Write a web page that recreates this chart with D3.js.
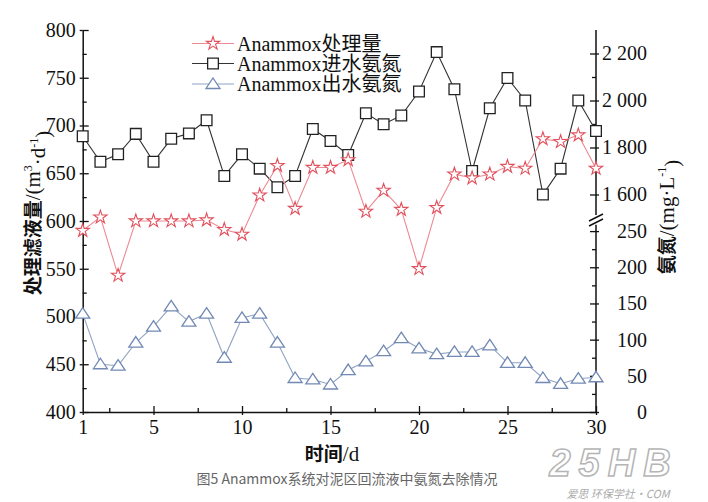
<!DOCTYPE html>
<html><head><meta charset="utf-8">
<script src="https://cdn.jsdelivr.net/npm/d3@7/dist/d3.min.js"></script>
<style>
html,body{margin:0;padding:0;background:#fff;}
svg{display:block;}
.tick text{font-family:"Liberation Serif","Times New Roman",serif;font-size:20px;fill:#111;}
</style></head>
<body><svg id="c" width="708" height="502"></svg>
<script>
const days = d3.range(1, 31);
const treatment = [590,604,543,600,600,600,600,601,591,586,627,658,613,656,656,664,610,632,612,550,614,649,645,649,657,655,686,683,690,655];
const influentNH = [1848,1739,1771,1858,1739,1837,1860,1916,1679,1771,1710,1631,1679,1879,1828,1768,1946,1899,1936,2038,2206,2048,1700,1967,2096,2000,1600,1710,2000,1870];
const effluentNH = [136,66,64,96,118,146,125,136,75,130,136,96,47,45,38,58,70,84,102,88,80,83,83,92,68,68,47,39,46,48];
const seriesNames = ["Anammox处理量","Anammox进水氨氮","Anammox出水氨氮"];
const xTicks = [1,5,10,15,20,25,30];
const leftTicks = [400,450,500,550,600,650,700,750,800];
const rightUpperTicks = [1600,1800,2000,2200];
const rightLowerTicks = [0,50,100,150,200,250];

const svg = d3.select("#c");
const X0 = 82.7, X1 = 596, YB = 412, YT = 30;
const x = d3.scaleLinear().domain([1,30]).range([X0, X1]);
const yL = d3.scaleLinear().domain([400,800]).range([YB, YT]);
const yRU = d3.scaleLinear().domain([1500,2300]).range([218, YT]);
const yRL = d3.scaleLinear().domain([0,260]).range([YB, YB - 260*0.7236]);

const axisColor = "#111";
function styleAxis(g){ g.selectAll(".domain").attr("stroke", axisColor).attr("stroke-width",1.5);
  g.selectAll(".tick line").attr("stroke", axisColor).attr("stroke-width",1.3); }

// bottom axis
const gB = svg.append("g").attr("transform",`translate(0,${YB})`);
gB.call(d3.axisBottom(x).tickValues(xTicks).tickSizeInner(3).tickSizeOuter(0).tickPadding(4).tickFormat(d3.format("d"))).call(styleAxis);
gB.selectAll(".tick text").attr("dy","0.75em");
svg.append("g").attr("transform",`translate(0,${YB})`)
  .call(d3.axisBottom(x).tickValues(xTicks.filter(d=>d!==1)).tickSize(-6).tickFormat("")).call(styleAxis).select(".domain").remove();
svg.append("g").attr("transform",`translate(0,${YB})`)
  .call(d3.axisBottom(x).tickValues([2.5,7.5,12.5,17.5,22.5,27.5]).tickSize(-4).tickFormat("")).call(styleAxis).select(".domain").remove();

// left axis
const gL = svg.append("g").attr("transform",`translate(${X0},0)`);
gL.call(d3.axisLeft(yL).tickValues(leftTicks).tickSizeInner(3).tickSizeOuter(0).tickPadding(4).tickFormat(d3.format("d"))).call(styleAxis);
svg.append("g").attr("transform",`translate(${X0},0)`)
  .call(d3.axisLeft(yL).tickValues(leftTicks).tickSize(-6).tickFormat("")).call(styleAxis).select(".domain").remove();
svg.append("g").attr("transform",`translate(${X0},0)`)
  .call(d3.axisLeft(yL).tickValues(d3.range(425,800,50)).tickSize(-4).tickFormat("")).call(styleAxis).select(".domain").remove();

// right axis (broken)
const fmtSp = d => { const s = String(d); return s.length>3 ? s.slice(0,s.length-3)+" "+s.slice(-3) : s; };
const gRU = svg.append("g").attr("class","rax").attr("transform",`translate(${X1},0)`);
gRU.call(d3.axisRight(yRU).tickValues(rightUpperTicks).tickSizeInner(3).tickSizeOuter(0).tickPadding(4).tickFormat(fmtSp)).call(styleAxis);
gRU.select(".domain").attr("d", `M0,${YT}V${yRU(1500)-3}`);
svg.append("g").attr("transform",`translate(${X1},0)`)
  .call(d3.axisRight(yRU).tickValues(rightUpperTicks).tickSize(-6).tickFormat("")).call(styleAxis).select(".domain").remove();
svg.append("g").attr("transform",`translate(${X1},0)`)
  .call(d3.axisRight(yRU).tickValues([1700,1900,2100]).tickSize(-4).tickFormat("")).call(styleAxis).select(".domain").remove();

const gRL = svg.append("g").attr("class","rax").attr("transform",`translate(${X1},0)`);
gRL.call(d3.axisRight(yRL).tickValues(rightLowerTicks).tickSizeInner(3).tickSizeOuter(0).tickPadding(4).tickFormat(fmtSp)).call(styleAxis);
gRL.select(".domain").attr("d", `M0,${yRL(260)+1}V${YB}`);
svg.append("g").attr("transform",`translate(${X1},0)`)
  .call(d3.axisRight(yRL).tickValues(rightLowerTicks).tickSize(-6).tickFormat("")).call(styleAxis).select(".domain").remove();
svg.append("g").attr("transform",`translate(${X1},0)`)
  .call(d3.axisRight(yRL).tickValues([25,75,125,175,225]).tickSize(-4).tickFormat("")).call(styleAxis).select(".domain").remove();
svg.selectAll(".rax .tick text").attr("text-anchor","end").attr("x", 647 - X1);
// break marks
const yb = yRU(1500);
[-1, 4].forEach(o=>{
  svg.append("line").attr("x1",X1-7).attr("y1",yb+o+4).attr("x2",X1+7).attr("y2",yb+o-3)
    .attr("stroke","#111").attr("stroke-width",1.5);
});

// series
const red = {line:"#ec8a92", mark:"#e2505c"};
const blk = {line:"#333", mark:"#222"};
const blu = {line:"#8fa3c4", mark:"#7189b3"};
const triPath = "M0,-6L7,4.5L-7,4.5Z";

function drawSeries(vals, yScale, col, symbolFn){
  const pts = vals.map((v,i)=>[x(days[i]), yScale(v)]);
  svg.append("path").attr("d", d3.line()(pts)).attr("fill","none").attr("stroke",col.line).attr("stroke-width",1.1);
  pts.forEach(p=> symbolFn(svg.append("g").attr("transform",`translate(${p[0]},${p[1]})`), col));
}
const starSym = (g,col)=> g.append("path").attr("d", d3.symbol(d3.symbolStar, 55)()).attr("fill","#fff").attr("stroke",col.mark).attr("stroke-width",1.1);
const sqSym = (g,col)=> g.append("path").attr("d", d3.symbol(d3.symbolSquare, 115)()).attr("fill","#fff").attr("stroke",col.mark).attr("stroke-width",1.3);
const triSym = (g,col)=> g.append("path").attr("d", triPath).attr("fill","#fff").attr("stroke",col.mark).attr("stroke-width",1.3);

drawSeries(effluentNH, yRL, blu, triSym);
drawSeries(influentNH, yRU, blk, sqSym);
drawSeries(treatment, yL, red, starSym);

// legend
const legY = [43.5, 63.5, 84];
const legCols = [red, blk, blu];
const legSyms = [starSym, sqSym, triSym];
seriesNames.forEach((n,i)=>{
  svg.append("line").attr("x1",192).attr("x2",234).attr("y1",legY[i]).attr("y2",legY[i]).attr("stroke",legCols[i].line).attr("stroke-width",1.1);
  legSyms[i](svg.append("g").attr("transform",`translate(213,${legY[i]})`), legCols[i]);
  svg.append("text").attr("x",237).attr("y",legY[i]).attr("dy","0.36em")
    .style("font-family",'"Liberation Serif","Noto Sans CJK SC",serif').style("font-size","20px").attr("fill","#111").text(n);
});

// axis titles
const cjk = '"Noto Sans CJK SC",sans-serif';
const ser = '"Liberation Serif","Times New Roman",serif';
function mixedTitle(t, parts){
  parts.forEach(p=>{
    const ts = t.append("tspan").text(p.t).style("font-family", p.c ? cjk : ser)
      .style("font-weight", p.c ? "bold" : "normal").style("font-size", p.sup ? "12px" : (p.c ? "19px" : "21px"));
    if (p.dy) ts.attr("dy", p.dy);
  });
}
const lt = svg.append("text").attr("transform","translate(34,213) rotate(-90)").attr("text-anchor","middle").attr("dy","0.35em").attr("fill","#111");
mixedTitle(lt, [{t:"处理滤液量",c:1},{t:"/(m"},{t:"3",sup:1,dy:"-0.6em"},{t:"·d",dy:"0.6em"},{t:"-1",sup:1,dy:"-0.6em"},{t:")",dy:"0.6em"}]);
const rt = svg.append("text").attr("transform","translate(668,217) rotate(-90)").attr("text-anchor","middle").attr("dy","0.35em").attr("fill","#111");
mixedTitle(rt, [{t:"氨氮",c:1},{t:"/(mg·L"},{t:"-1",sup:1,dy:"-0.6em"},{t:")",dy:"0.6em"}]);

const xt = svg.append("text").attr("x",332).attr("y",455).attr("text-anchor","middle").attr("dy","0.35em").attr("fill","#111");
mixedTitle(xt, [{t:"时间",c:1},{t:"/d"}]);

// caption
svg.append("text").attr("x",347).attr("y",479).attr("text-anchor","middle").attr("dy","0.35em")
  .style("font-family",'"Noto Sans CJK SC","Noto Sans",sans-serif').style("font-size","14px").attr("fill","#666")
  .text("图5 Anammox系统对泥区回流液中氨氮去除情况");

// watermark
svg.append("text").attr("x",614).attr("y",463).attr("text-anchor","middle").attr("dy","0.35em")
  .style("font-family",'"Liberation Sans",sans-serif').style("font-size","38px").style("font-weight","bold").style("font-style","italic")
  .attr("fill","#fff").attr("stroke","#b5b5b5").attr("stroke-width",1.5).attr("letter-spacing","8px").text("25HB");
svg.append("text").attr("x",618).attr("y",494).attr("text-anchor","middle").attr("dy","0.35em")
  .style("font-family",'"Noto Sans CJK SC",sans-serif').style("font-size","11px").style("font-style","italic")
  .attr("fill","#aaa").text("爱思 环保学社·COM");
</script></body></html>
